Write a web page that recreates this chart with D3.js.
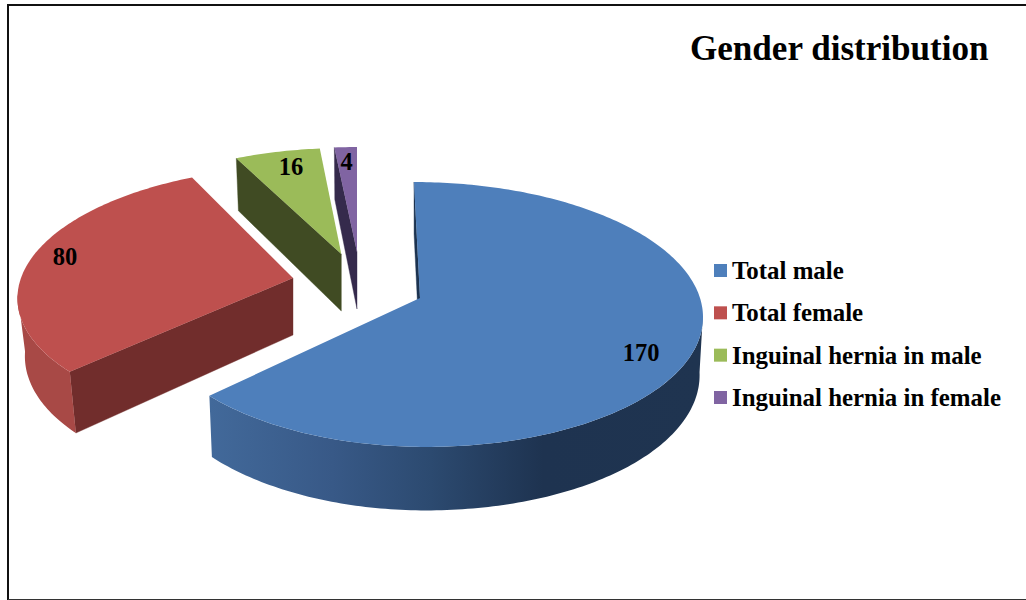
<!DOCTYPE html>
<html>
<head>
<meta charset="utf-8">
<script src="https://cdn.jsdelivr.net/npm/d3@7"></script>
<style>
  html, body { margin: 0; padding: 0; background: #fff; }
  svg { display: block; }
  text { font-family: "Liberation Serif", serif; font-weight: bold; fill: #000; }
</style>
</head>
<body>
<div id="main"></div>
<script>
const ctx = { w: 1026, h: 600 };

// data
const categories = ["Total male", "Total female", "Inguinal hernia in male", "Inguinal hernia in female"];
const values = [170, 80, 16, 4];

// colours
const topColors = ["#4e7fbb", "#be504e", "#9bbb59", "#8064a2"];
const wallColors = ["#1c3350", "#712d2c", "#404b23", "#352a4c"];
const sideColors = ["url(#blueSide)", "#a84946", "#7d9a46", "#66507f"];

// exploded 3d slices: apex on screen, radii, skew and bottom shrink, fitted per slice
const sliceLayout = [
  { x: 420, y: 298, rx: 280, rxLeft: 270, ry: 130.4, skew: 6, shrink: 0.988 },
  { x: 293, y: 278, rx: 272, rxLeft: 272, ry: 125, skew: -10, shrink: 0.973 },
  { x: 341.3, y: 254, rx: 260, rxLeft: 260, ry: 119, skew: 0, shrink: 0.98 },
  { x: 357, y: 252, rx: 274, rxLeft: 274, ry: 118, skew: 0, shrink: 0.98 },
];
const labelPos = [[641, 361], [65, 264.5], [291, 175], [346.5, 170]];

const persp = 0.1245;   // perspective of the disc
const depth = 57;       // height of the pie

function project(s, a, lower) {
  const u = Math.sin(a), v = -Math.cos(a);
  const k = 1 / (1 - persp * v);
  const r = u < 0 ? s.rxLeft : s.rx;
  let x = r * u * k + s.skew * v;
  let y = s.ry * v * k;
  if (lower) {
    x *= s.shrink;
    y += depth * (1 + 0.8 * (k - 1));
  }
  return [s.x + x, s.y + y];
}

function apex(s, lower) {
  return [s.x, s.y + (lower ? depth : 0)];
}

function arcPoints(s, a0, a1, lower) {
  const n = Math.max(2, Math.ceil((a1 - a0) * 60));
  return d3.range(n + 1).map(i => project(s, a0 + (a1 - a0) * i / n, lower));
}

function createPie(svg) {
  const defs = svg.append("defs");
  const grad = defs.append("linearGradient")
    .attr("id", "blueSide")
    .attr("gradientUnits", "userSpaceOnUse")
    .attr("x1", 210).attr("x2", 700).attr("y1", 0).attr("y2", 0);
  [[0, "#42699a"], [0.25, "#385987"], [0.45, "#2c4a70"], [0.68, "#1e3350"], [1, "#1f3450"]]
    .forEach(d => grad.append("stop").attr("offset", d[0]).attr("stop-color", d[1]));

  const pie = d3.pie().sort(null);
  const arcs = pie(values);
  const line = d3.line().curve(d3.curveLinearClosed);

  // the rim only shows where it faces the viewer
  const rimFrom = Math.acos(-persp);
  const rimTo = 2 * Math.PI - rimFrom;

  // back slices first, the big one last
  const order = [2, 3, 1, 0];
  const slices = svg.selectAll("g.slice")
    .data(order)
    .enter()
    .append("g")
    .attr("class", "slice");

  // radial wall at the start angle
  slices.append("path")
    .attr("d", i => {
      const s = sliceLayout[i], a = arcs[i].startAngle;
      return line([project(s, a, false), apex(s, false), apex(s, true), project(s, a, true)]);
    })
    .attr("fill", i => wallColors[i])
    .attr("stroke", i => wallColors[i])
    .attr("stroke-width", 0.4);

  // outer rim
  slices.filter(i => arcs[i].startAngle < rimTo && arcs[i].endAngle > rimFrom)
    .append("path")
    .attr("d", i => {
      const s = sliceLayout[i];
      const a0 = Math.max(arcs[i].startAngle, rimFrom);
      const a1 = Math.min(arcs[i].endAngle, rimTo);
      const upper = arcPoints(s, a0, a1, false);
      const lower = arcPoints(s, a0, a1, true).reverse();
      return line(upper.concat(lower));
    })
    .attr("fill", i => sideColors[i]);

  // top face
  slices.append("path")
    .attr("d", i => {
      const s = sliceLayout[i], d = arcs[i];
      return line([apex(s, false)].concat(arcPoints(s, d.startAngle, d.endAngle, false)));
    })
    .attr("fill", i => topColors[i]);

  svg.selectAll("text.value")
    .data(values)
    .enter()
    .append("text")
    .attr("class", "value")
    .attr("x", (d, i) => labelPos[i][0])
    .attr("y", (d, i) => labelPos[i][1])
    .attr("text-anchor", "middle")
    .style("font-size", "24.5px")
    .text(d => d);
}

function createLegend(svg) {
  const y = d3.scalePoint().domain(categories).range([264, 391]);
  const items = svg.selectAll("g.legend")
    .data(categories)
    .enter()
    .append("g")
    .attr("class", "legend")
    .attr("transform", d => `translate(714,${y(d)})`);
  items.append("rect")
    .attr("width", 13)
    .attr("height", 13)
    .attr("fill", (d, i) => topColors[i]);
  items.append("text")
    .attr("x", 18)
    .attr("y", 15)
    .style("font-size", "24.9px")
    .text(d => d);
}

function createViz() {
  const svg = d3.select("#main").append("svg")
    .attr("width", ctx.w)
    .attr("height", ctx.h);

  // frame, open on the right
  svg.append("path")
    .attr("d", "M8,600V5H1026")
    .attr("fill", "none")
    .attr("stroke", "#111")
    .attr("stroke-width", 2);
  svg.append("path")
    .attr("d", "M8,599.5H1026")
    .attr("stroke", "#333")
    .attr("stroke-width", 1);

  svg.append("text")
    .attr("x", 690)
    .attr("y", 60)
    .style("font-size", "35.1px")
    .text("Gender distribution");

  createPie(svg);
  createLegend(svg);
}

createViz();
</script>
</body>
</html>
